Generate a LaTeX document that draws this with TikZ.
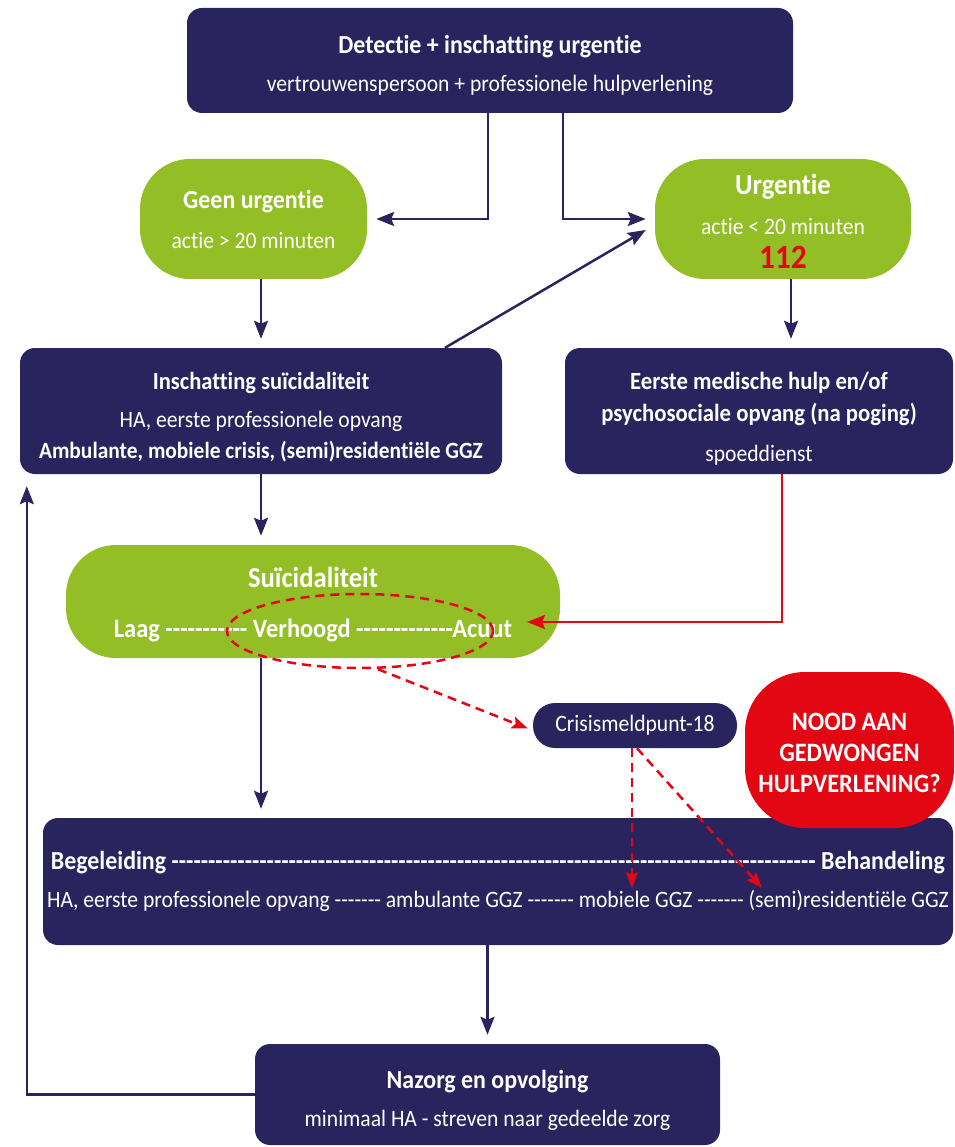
\documentclass[tikz,border=0pt]{standalone}
\usepackage{fontspec}
\setmainfont{Carlito}[Ligatures={TeXOff,NoCommon}, FakeStretch=0.92]
\usetikzlibrary{arrows.meta,shapes.geometric}
\definecolor{navy}{RGB}{42,36,94}
\definecolor{gras}{RGB}{148,190,38}
\definecolor{alarm}{RGB}{227,6,19}
\newcommand\kop[2]{{\fontsize{#1}{#1}\selectfont\bfseries #2}}
\tikzset{
  navybox/.style={fill=navy, text=white, rounded corners=15pt, align=center, inner sep=0pt,
    font=\fontsize{23.5}{28}\selectfont},
  greenbox/.style={fill=gras, text=white, rounded corners=50pt, align=center, inner sep=0pt,
    font=\fontsize{23.5}{28}\selectfont},
  flow/.style={draw=navy, line width=2.5pt, -{Stealth[length=18pt,width=14pt,inset=3pt]}},
  redflow/.style={draw=alarm, line width=2.5pt, -{Stealth[length=18pt,width=14pt,inset=3pt]}},
  reddash/.style={draw=alarm, line width=2.5pt, dash pattern=on 9pt off 6pt},
}
\begin{document}
\begin{tikzpicture}[x=1pt,y=-1pt]
\useasboundingbox (0,0) rectangle (954,1147);
% boxes
\node[navybox, minimum width=606pt, minimum height=105pt] (detectie) at (490,60.5)
  {\rule{0pt}{28pt}\kop{26}{Detectie + inschatting urgentie}\\[10pt] vertrouwenspersoon + professionele hulpverlening};
\node[greenbox, minimum width=227pt, minimum height=120pt] (geen) at (253.5,219)
  {\kop{26}{Geen urgentie}\\[12pt] actie > 20 minuten};
\node[greenbox, minimum width=256pt, minimum height=120pt] (urgentie) at (783,219)
  {\rule{0pt}{25pt}\kop{29}{Urgentie}\\[12pt] actie < 20 minuten\\[6pt] {\fontsize{34}{34}\selectfont\bfseries\color{alarm}112}};
\node[navybox, minimum width=482pt, minimum height=126pt] (inschatting) at (261,411)
  {\rule{0pt}{29.5pt}\kop{24.5}{Inschatting suïcidaliteit}\\[10pt] HA, eerste professionele opvang\\[3pt]
   \kop{23.3}{Ambulante, mobiele crisis, (semi)residentiële GGZ}};
\node[navybox, minimum width=388pt, minimum height=126pt] (eerste) at (759,411)
  {\rule{0pt}{32pt}\kop{24.7}{Eerste medische hulp en/of}\\[4pt] \kop{24.7}{psychosociale opvang (na poging)}\\[12pt] spoeddienst};
\node[greenbox, minimum width=494pt, minimum height=113pt] (suicid) at (313,601.5)
  {\rule{0pt}{27pt}\kop{29}{Suïcidaliteit}\\[22pt] \kop{26.5}{Laag ----------- Verhoogd -------------Acuut}};
\node[navybox, rounded corners=22pt, minimum width=204pt, minimum height=45pt] (crisis) at (635,725.5)
  {Crisismeldpunt-18};
\node[navybox, minimum width=910pt, minimum height=127pt] (begeleiding) at (498,881.5)
  {\kop{26}{Begeleiding ---------------------------------------------------------------------------------------- Behandeling}\\[10pt]
   HA, eerste professionele opvang ------- ambulante GGZ ------- mobiele GGZ ------- (semi)residentiële GGZ};
\node[fill=alarm, text=white, rounded corners=60pt, align=center, inner sep=0pt,
  font=\fontsize{26.5}{31}\selectfont\bfseries, minimum width=209pt, minimum height=156pt] (nood) at (849.5,750)
  {\rule{0pt}{23pt}NOOD AAN\\GEDWONGEN\\HULPVERLENING?};
\node[navybox, minimum width=465pt, minimum height=101pt] (nazorg) at (487.5,1094.5)
  {\rule{0pt}{30.5pt}\kop{26}{Nazorg en opvolging}\\[10pt] minimaal HA - streven naar gedeelde zorg};
\node[draw=alarm, line width=2.5pt, dash pattern=on 9pt off 6pt, ellipse, inner sep=0pt,
  minimum width=266pt, minimum height=74pt] (kring) at (360,631) {};
\coordinate (acuutpunt) at (527,622);
\coordinate (mobiel) at (632,888);
\coordinate (residentieel) at (762,888);
% connectors
\draw[flow, shorten >=9pt] ([xshift=-2pt]detectie.south) |- (geen.east);
\draw[flow, shorten >=9pt] ([xshift=73pt]detectie.south) |- (urgentie.west);
\draw[flow] ([xshift=184pt]inschatting.north) -- ([xshift=-9pt,yshift=-11pt]urgentie.west);
\draw[flow, shorten >=9pt] (inschatting.north |- geen.south) -- (inschatting.north);
\draw[flow, shorten >=9pt] ([xshift=8pt]urgentie.south) -- ([xshift=8pt]urgentie.south |- eerste.north);
\draw[flow, shorten >=9pt] (inschatting.south) -- (inschatting.south |- suicid.north);
\draw[flow, shorten >=9pt] (suicid.south -| inschatting.south) -- (inschatting.south |- begeleiding.north);
\draw[flow, shorten >=9pt] (begeleiding.south -| nazorg.north) -- (nazorg.north);
\draw[flow, shorten >=12pt] (nazorg.west) -| ([xshift=7pt]inschatting.south west);
\draw[redflow] ([xshift=23pt]eerste.south) |- (acuutpunt);
\draw[reddash, -{Stealth[length=16pt,width=12pt,inset=3pt]}] ([xshift=18pt]kring.south) -- ([xshift=-5pt,yshift=-3pt]crisis.west);
\draw[reddash, -{Stealth[length=16pt,width=12pt,inset=3pt]}] ([xshift=-3pt]crisis.south) -- (mobiel);
\draw[reddash, -{Stealth[length=16pt,width=12pt,inset=3pt]}] ([xshift=2pt]crisis.south) -- (residentieel);
\end{tikzpicture}
\end{document}
